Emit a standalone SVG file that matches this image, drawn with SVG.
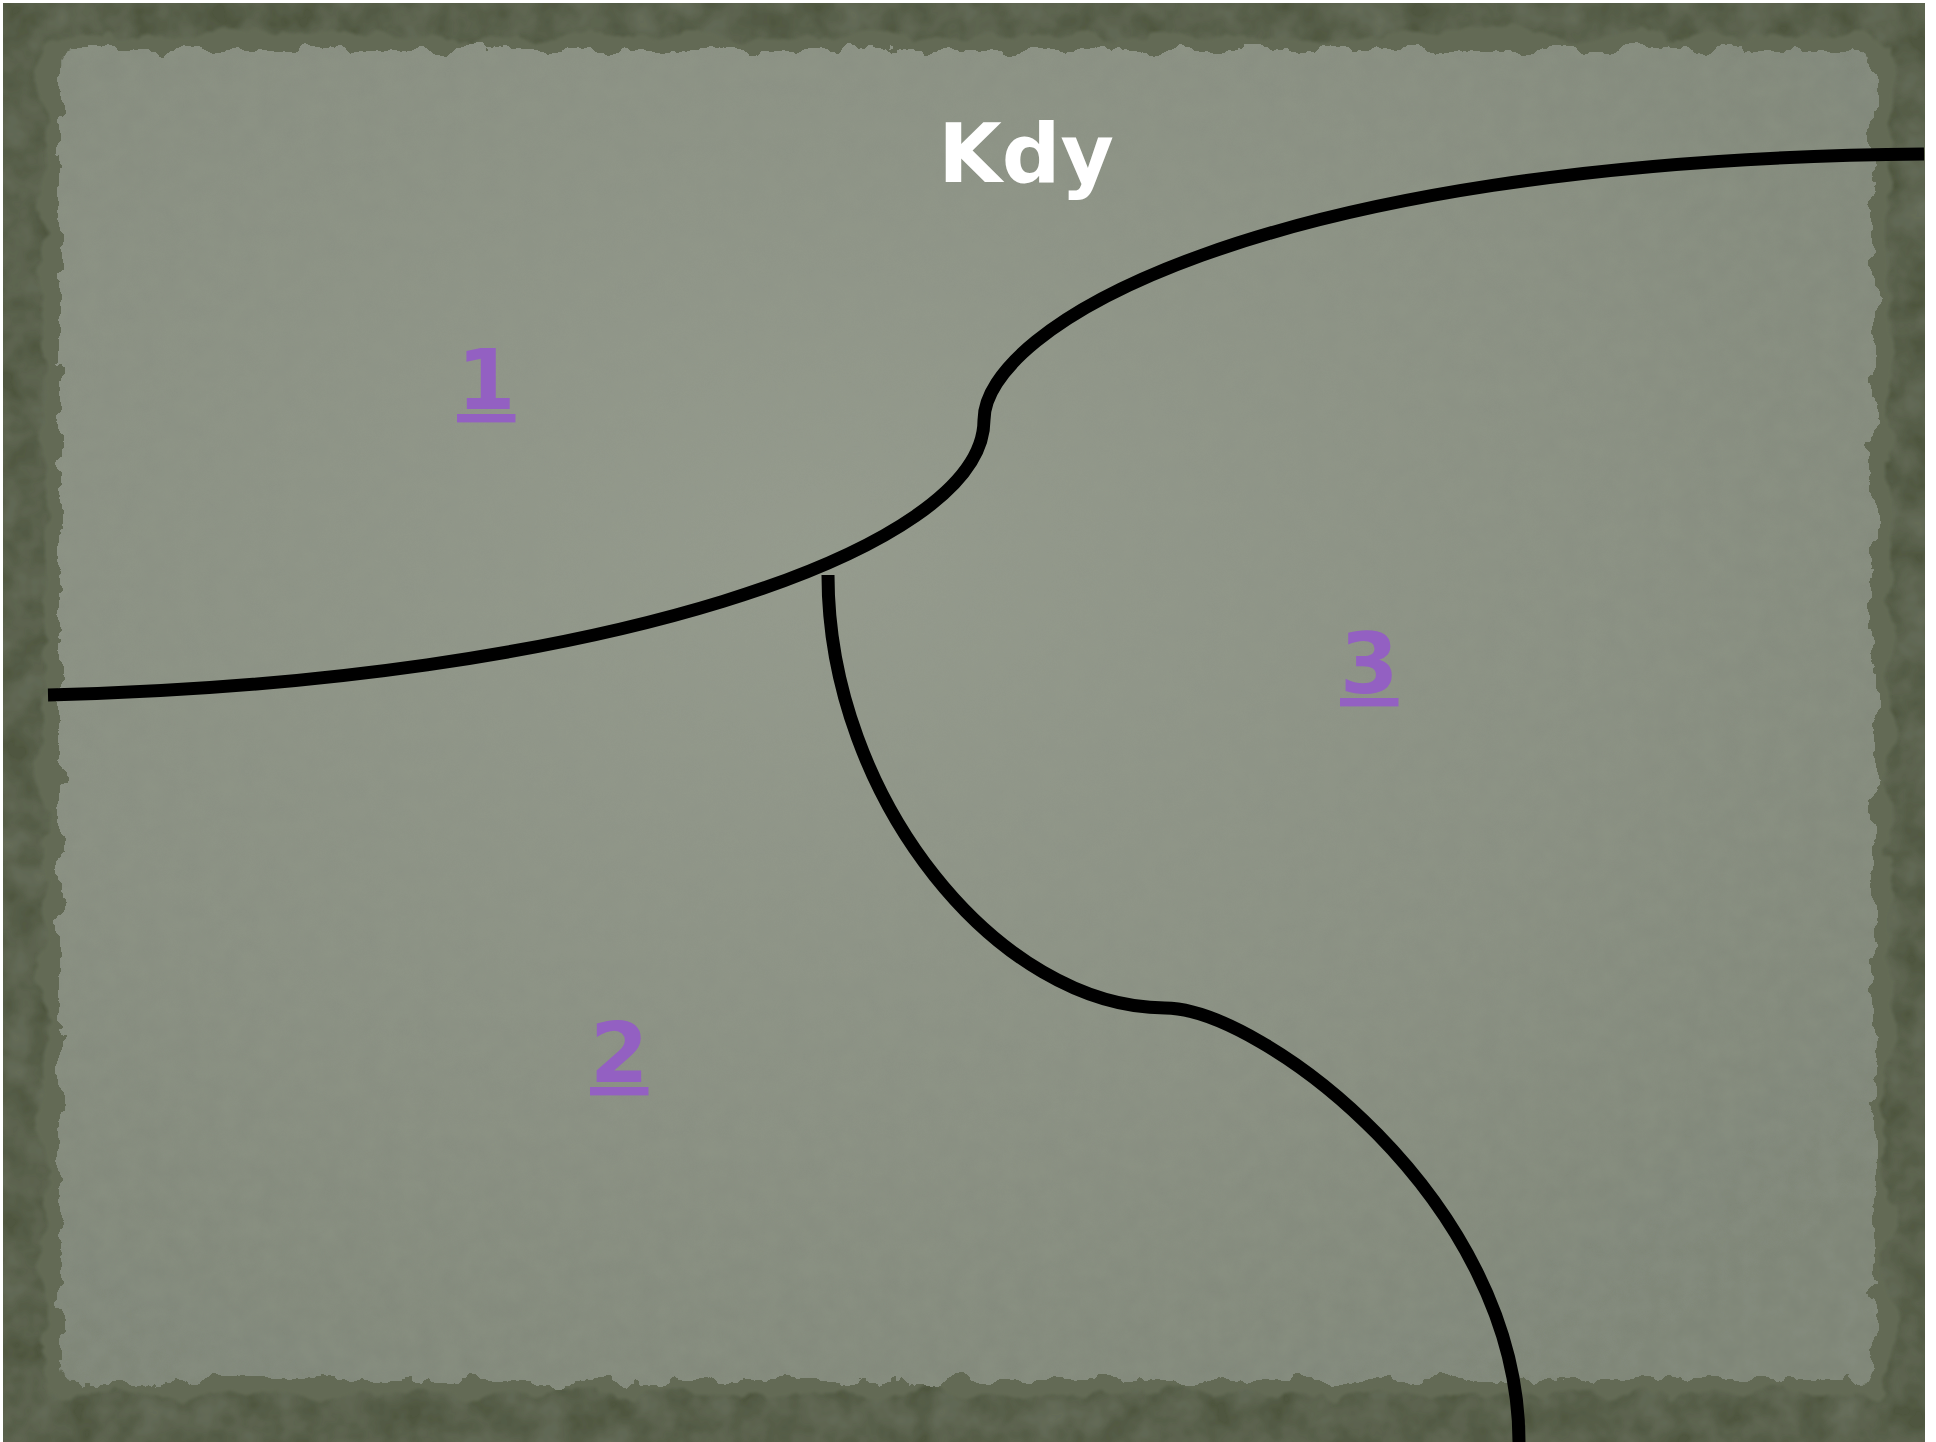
<svg xmlns="http://www.w3.org/2000/svg" width="1936" height="1442" viewBox="0 0 1936 1442">
<defs>
<style>
.curve{fill:none;stroke:#000;stroke-width:13;stroke-linecap:butt}
.title{font-family:"DejaVu Sans","Liberation Sans",sans-serif;font-weight:bold;font-size:82px;fill:#fff}
.num{font-family:"DejaVu Sans","Liberation Sans",sans-serif;font-weight:bold;font-size:84px;fill:#9360c2;text-decoration:underline}
</style>
<radialGradient id="paper" cx="0.42" cy="0.38" r="0.75">
<stop offset="0" stop-color="#959b8e"/>
<stop offset="0.6" stop-color="#8a9083"/>
<stop offset="1" stop-color="#7f8678"/>
</radialGradient>
<filter id="tex" x="0" y="0" width="1" height="1">
<feTurbulence type="fractalNoise" baseFrequency="0.03" numOctaves="3" seed="4" result="n"/>
<feColorMatrix in="n" type="matrix" values="0 0 0 0 0.28  0 0 0 0 0.31  0 0 0 0 0.24  0 0 0 0.4 -0.08" result="c"/>
<feComposite in="c" in2="SourceGraphic" operator="in" result="m"/>
<feMerge><feMergeNode in="SourceGraphic"/><feMergeNode in="m"/></feMerge>
</filter>
<filter id="torn" x="-0.05" y="-0.05" width="1.1" height="1.1">
<feTurbulence type="fractalNoise" baseFrequency="0.035" numOctaves="4" seed="7" result="t"/>
<feDisplacementMap in="SourceGraphic" in2="t" scale="26" xChannelSelector="R" yChannelSelector="G" result="d"/>
<feTurbulence type="fractalNoise" baseFrequency="0.05" numOctaves="3" seed="2" result="n"/>
<feColorMatrix in="n" type="matrix" values="0 0 0 0 0.3  0 0 0 0 0.33  0 0 0 0 0.26  0 0 0 0.35 -0.07" result="c"/>
<feComposite in="c" in2="d" operator="in" result="m"/>
<feMerge><feMergeNode in="d"/><feMergeNode in="m"/></feMerge>
</filter>
<filter id="torn2" x="-0.05" y="-0.05" width="1.1" height="1.1">
<feTurbulence type="fractalNoise" baseFrequency="0.02" numOctaves="4" seed="11" result="t"/>
<feDisplacementMap in="SourceGraphic" in2="t" scale="34" xChannelSelector="R" yChannelSelector="G" result="d"/>
<feGaussianBlur in="d" stdDeviation="1.5"/>
</filter>
</defs>
<rect x="0" y="0" width="1936" height="1442" fill="#ffffff"/>
<rect x="3" y="3" width="1922" height="1439" fill="#4f5740" filter="url(#tex)"/>
<g id="paper-edge">
<rect x="44" y="36" width="1846" height="1358" rx="14" fill="#636b54" filter="url(#torn2)"/>
</g>
<g id="paper">
<rect x="60" y="50" width="1814" height="1330" rx="12" fill="url(#paper)" filter="url(#torn)"/>
</g>
<g id="connectors">
<path class="curve" d="M48,695 C600,682 984,550 984,420 C984,330 1250,160 1924,154"/>
<path class="curve" d="M828,575 C828,800 1000,1008 1165,1008 C1260,1008 1519,1200 1519,1442"/>
</g>
<g id="title"><text class="title" x="1026" y="182" text-anchor="middle">Kdy</text></g>
<g id="region-1"><text class="num" x="457" y="409">1</text></g>
<g id="region-2"><text class="num" x="590" y="1082">2</text></g>
<g id="region-3"><text class="num" x="1340" y="693">3</text></g>
</svg>
